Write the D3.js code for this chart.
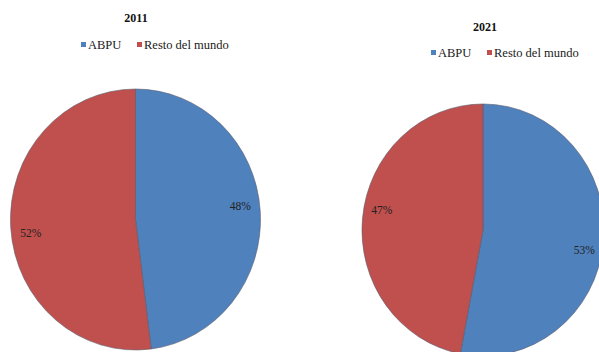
<!DOCTYPE html>
<html>
<head>
<meta charset="utf-8">
<script src="https://cdn.jsdelivr.net/npm/d3@7/dist/d3.min.js"></script>
<style>
  html, body { margin: 0; padding: 0; background: #fff; }
  svg { display: block; }
</style>
</head>
<body>
<svg id="chart" width="599" height="352"></svg>
<script>
// Share of ABPU vs. rest of the world, two years
const categories = ["ABPU", "Resto del mundo"];
const years = ["2011", "2021"];
const values2011 = [48, 52];
const values2021 = [53, 47];
const colors = ["#4F81BD", "#C0504D"];

const FONT = "'Liberation Serif', 'Times New Roman', Times, serif";

// Layout of each pie panel
const panels = [
  { year: years[0], values: values2011, cx: 135.5, cy: 219.5, rx: 125, ry: 130.5,
    titleX: 136, titleY: 22, legendX: 81, legendY: 49 },
  { year: years[1], values: values2021, cx: 483, cy: 230, rx: 121, ry: 126,
    titleX: 485, titleY: 31, legendX: 431, legendY: 57 }
];

const svg = d3.select("#chart");
const color = d3.scaleOrdinal().domain(categories).range(colors);

const pie = d3.pie()
  .sort(null)
  .value(d => d.value)
  .startAngle(0)
  .endAngle(2 * Math.PI);

panels.forEach(p => {
  const data = categories.map((c, i) => ({ name: c, value: p.values[i] }));
  const arcs = pie(data);

  // Title
  svg.append("text")
    .attr("x", p.titleX)
    .attr("y", p.titleY)
    .attr("text-anchor", "middle")
    .attr("font-family", FONT)
    .attr("font-size", 12)
    .attr("font-weight", "bold")
    .attr("fill", "#111")
    .text(p.year);

  // Legend
  const legend = svg.append("g").attr("transform", `translate(${p.legendX},${p.legendY})`);
  const offsets = [0, 56];
  categories.forEach((c, i) => {
    const g = legend.append("g").attr("transform", `translate(${offsets[i]},0)`);
    g.append("rect")
      .attr("x", 0).attr("y", -7)
      .attr("width", 5).attr("height", 5)
      .attr("fill", color(c));
    g.append("text")
      .attr("x", 7).attr("y", 0)
      .attr("font-family", FONT)
      .attr("font-size", 12.5)
      .attr("fill", "#1a1a1a")
      .text(c);
  });

  // Pie (drawn as a circle, stretched vertically into a slight ellipse)
  const arc = d3.arc().innerRadius(0).outerRadius(p.rx);
  const pieG = svg.append("g")
    .attr("transform", `translate(${p.cx},${p.cy}) scale(1,${p.ry / p.rx})`);

  pieG.selectAll("path")
    .data(arcs)
    .join("path")
    .attr("d", arc)
    .attr("fill", d => color(d.data.name))
    .attr("stroke", "#5a5a6a")
    .attr("stroke-width", 0.6)
    .attr("vector-effect", "non-scaling-stroke");

  // Percentage labels near the rim
  const labelArc = d3.arc().innerRadius(p.rx * 0.84).outerRadius(p.rx * 0.84);
  arcs.forEach(d => {
    const [lx, ly] = labelArc.centroid(d);
    svg.append("text")
      .attr("x", p.cx + lx)
      .attr("y", p.cy + ly * (p.ry / p.rx) * 2)
      .attr("dy", "0.35em")
      .attr("text-anchor", "middle")
      .attr("font-family", FONT)
      .attr("font-size", 11.5)
      .attr("fill", "#222")
      .text(d.data.value + "%");
  });
});
</script>
</body>
</html>
